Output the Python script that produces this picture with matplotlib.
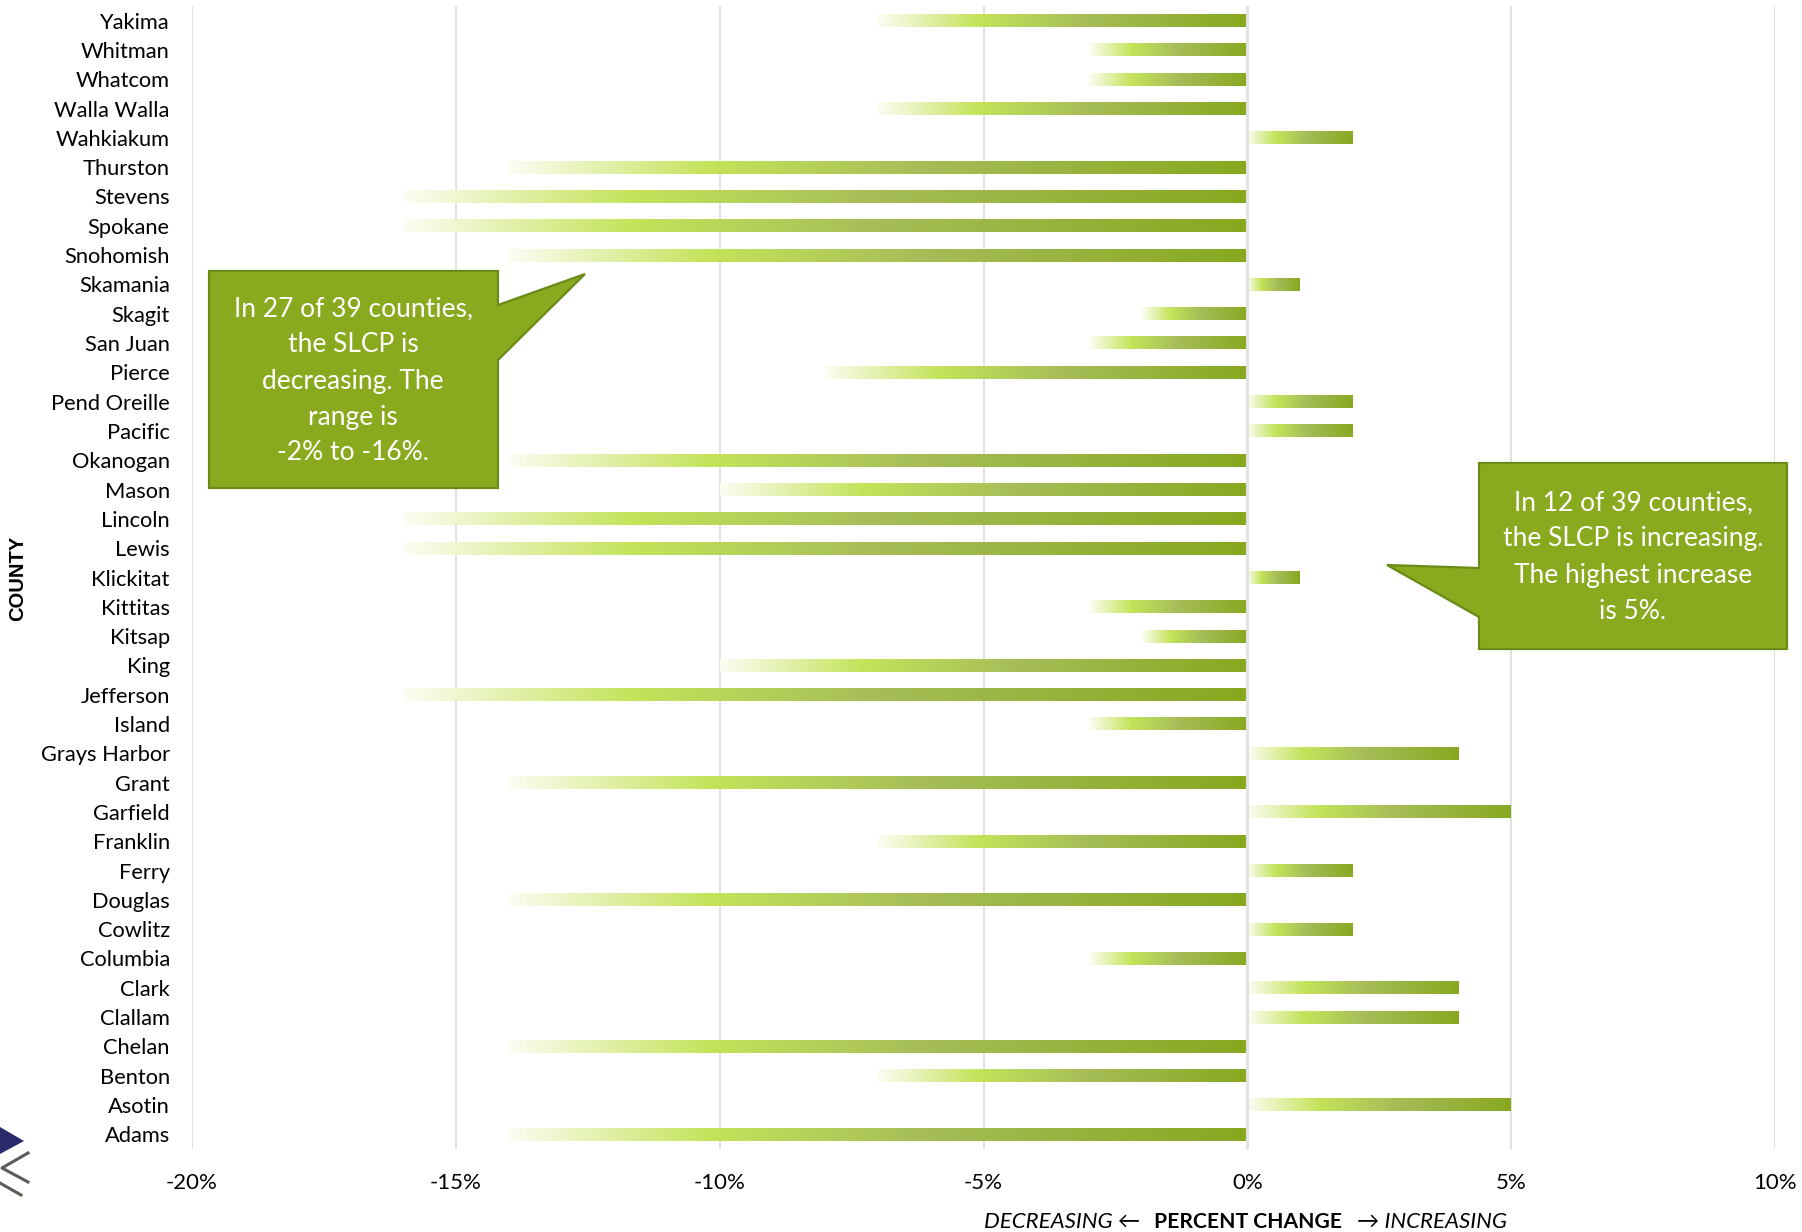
import numpy as np
import matplotlib
matplotlib.use('Agg')
import matplotlib.pyplot as plt
from matplotlib.colors import LinearSegmentedColormap
from matplotlib.patches import Polygon
from matplotlib.lines import Line2D
from matplotlib.ticker import FuncFormatter

# County names (bottom to top) and percent change in SLCP
counties = ['Adams', 'Asotin', 'Benton', 'Chelan', 'Clallam', 'Clark', 'Columbia',
            'Cowlitz', 'Douglas', 'Ferry', 'Franklin', 'Garfield', 'Grant',
            'Grays Harbor', 'Island', 'Jefferson', 'King', 'Kitsap', 'Kittitas',
            'Klickitat', 'Lewis', 'Lincoln', 'Mason', 'Okanogan', 'Pacific',
            'Pend Oreille', 'Pierce', 'San Juan', 'Skagit', 'Skamania', 'Snohomish',
            'Spokane', 'Stevens', 'Thurston', 'Wahkiakum', 'Walla Walla', 'Whatcom',
            'Whitman', 'Yakima']
change = [-14, 5, -7, -14, 4, 4, -3,
          2, -14, 2, -7, 5, -14,
          4, -3, -16, -10, -2, -3,
          1, -16, -16, -10, -14, 2,
          2, -8, -3, -2, 1, -14,
          -16, -16, -14, 2, -7, -3,
          -3, -7]
xticks = [-20, -15, -10, -5, 0, 5, 10]

note_left = 'In 27 of 39 counties,\nthe SLCP is\ndecreasing. The\nrange is\n-2% to -16%.'
note_right = 'In 12 of 39 counties,\nthe SLCP is increasing.\nThe highest increase\nis 5%.'

FONT = ['Lato', 'DejaVu Sans']
plt.rcParams['font.family'] = FONT

W, H = 1802, 1232
fig = plt.figure(figsize=(W / 100, H / 100), dpi=100)
ax = fig.add_axes([192 / W, 1 - 1149 / H, (1775 - 192) / W, (1149 - 6) / H])

# gradient used inside every bar, light on the left, olive on the right
grad_cmap = LinearSegmentedColormap.from_list('slcp', [
    (0.0, '#fbfdf2'), (0.27, '#c4e35a'), (0.56, '#a6bd58'), (1.0, '#88a820')])
grad = np.linspace(0, 1, 256).reshape(1, -1)

y = np.arange(len(counties))
bars = ax.barh(y, change, height=0.44, color='none', edgecolor='none', zorder=2)
for bar in bars:
    x0 = bar.get_x()
    x1 = x0 + bar.get_width()
    y0 = bar.get_y()
    ax.imshow(grad, cmap=grad_cmap, aspect='auto', interpolation='bilinear',
              extent=[min(x0, x1), max(x0, x1), y0, y0 + bar.get_height()], zorder=2)

for xv in xticks:
    if xv == 0:
        ax.axvline(xv, color='#e2e2e2', lw=2.2, zorder=3)
    else:
        ax.axvline(xv, color='#d9d9d9', lw=1.1, zorder=1)

ax.set_xlim(-20, 10)
ax.set_ylim(-0.5, len(counties) - 0.5)
ax.set_xticks(xticks)
ax.xaxis.set_major_formatter(FuncFormatter(lambda v, p: '%d%%' % v))
ax.set_yticks(y)
ax.set_yticklabels(counties)
ax.tick_params(axis='y', length=0, pad=16, labelsize=15.75)
ax.tick_params(axis='x', length=0, pad=17, labelsize=16)
for s in ax.spines.values():
    s.set_visible(False)

# axis titles
fig.text(18 / W, 1 - 578 / H, 'COUNTY', rotation=90, fontsize=14.5, fontweight='bold',
         ha='center', va='center', family=['Liberation Sans', 'DejaVu Sans'])
ty = 1 - 1222 / H
fig.text(1140 / W, ty, 'DECREASING \u2190', style='italic', fontsize=16,
         ha='right', va='center')
fig.text(1248 / W, ty, 'PERCENT CHANGE', fontweight='bold', fontsize=15.2,
         ha='center', va='center')
fig.text(1357 / W, ty, '\u2192 INCREASING', style='italic', fontsize=16,
         ha='left', va='center')


def px(points):
    return [(a / W, 1 - b / H) for a, b in points]


# callouts
left_box = [(209, 271), (498, 271), (498, 305), (585, 274), (498, 360),
            (498, 488), (209, 488)]
right_box = [(1479, 463), (1787, 463), (1787, 649), (1479, 649), (1479, 617),
             (1387, 565), (1479, 568)]
for pts in (left_box, right_box):
    fig.patches.append(Polygon(px(pts), closed=True, transform=fig.transFigure,
                               facecolor='#89a91e', edgecolor='#6b8a17', lw=1.6,
                               zorder=5))
fig.text(353 / W, 1 - 381 / H, note_left, color='white', fontsize=19, ha='center',
         va='center', linespacing=1.55, zorder=6)
fig.text(1633 / W, 1 - 557 / H, note_right, color='white', fontsize=19, ha='center',
         va='center', linespacing=1.57, zorder=6)

# small logo mark in the corner
fig.patches.append(Polygon(px([(0, 1127), (24, 1141), (0, 1154)]), closed=True,
                           transform=fig.transFigure, facecolor='#2b2a6b',
                           edgecolor='none'))
for xs, ys in (([28, 2, 28], [1153, 1168, 1182]), ([0, 21], [1183, 1195])):
    fig.lines.append(Line2D([a / W for a in xs], [1 - b / H for b in ys],
                            transform=fig.transFigure, color='#5c5c55', lw=2.2))

fig.savefig('out.png', dpi=100)
